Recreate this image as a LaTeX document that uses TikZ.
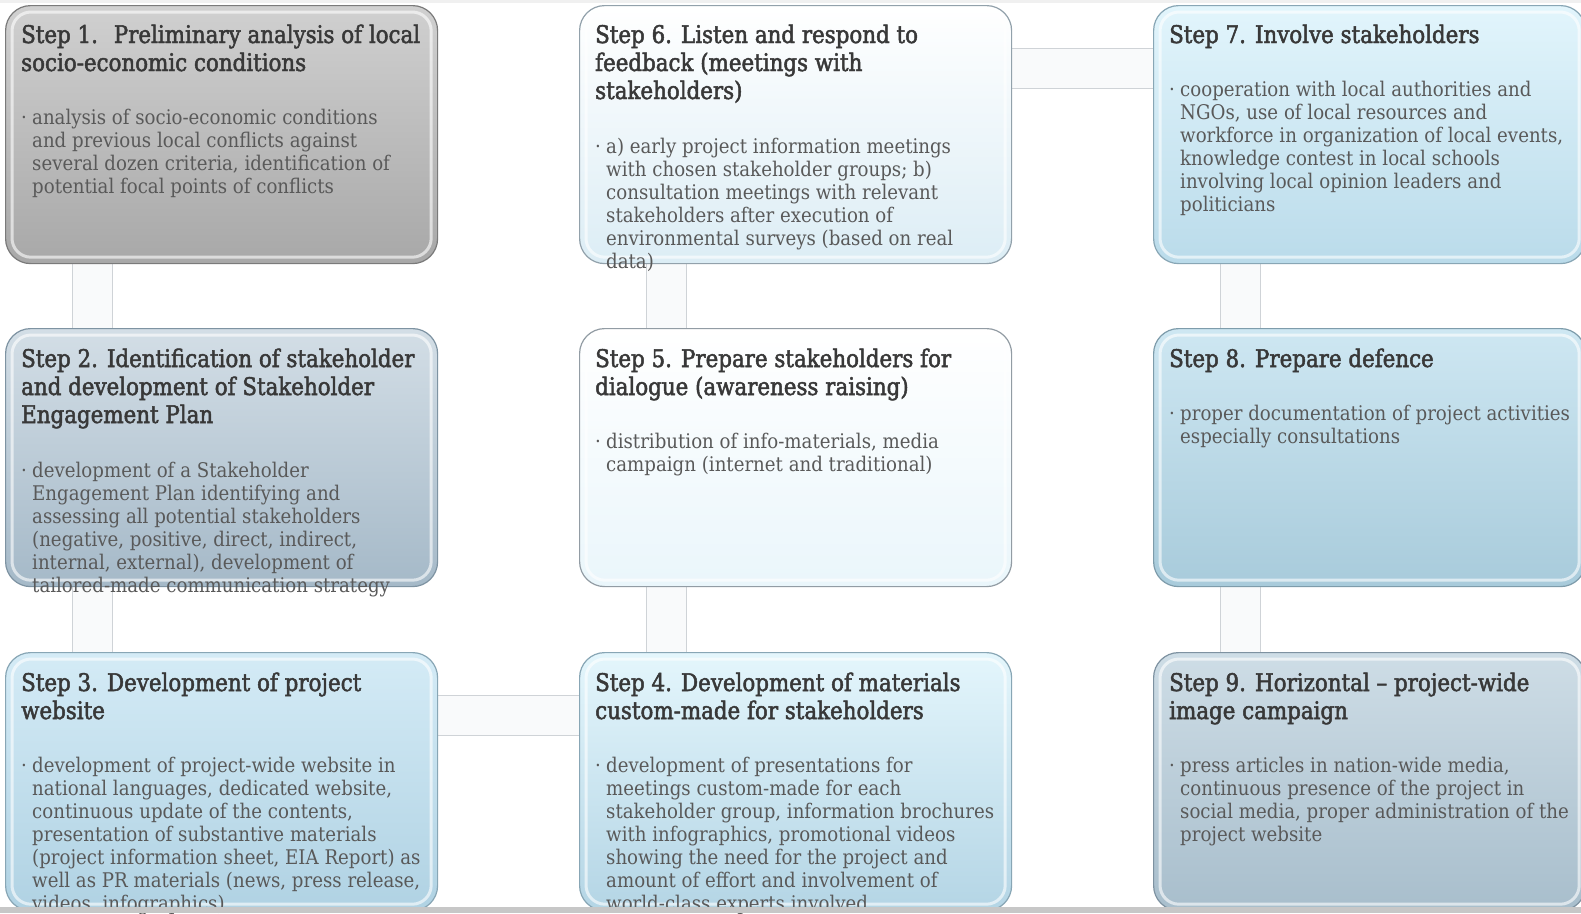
\documentclass[tikz,border=0pt]{standalone}
\usepackage{fontspec}
\usetikzlibrary{calc}
\newfontfamily\bodyfont[FakeStretch=0.9]{DejaVu Serif}
\newfontfamily\titlefont[FakeStretch=0.88,FakeBold=2]{DejaVu Serif}
\definecolor{titlec}{HTML}{383838}
\definecolor{bodyc}{HTML}{595959}
\definecolor{bandfill}{HTML}{F9FAFB}
\definecolor{bandline}{HTML}{CFD3D7}
\definecolor{top1}{HTML}{D0D0D0}\definecolor{bot1}{HTML}{A8A8A8}\definecolor{brd1}{HTML}{7A7A7A}
\definecolor{top2}{HTML}{D3DEE6}\definecolor{bot2}{HTML}{A5B9C8}\definecolor{brd2}{HTML}{7E93A2}
\definecolor{top3}{HTML}{D4EBF6}\definecolor{bot3}{HTML}{B0D2E3}\definecolor{brd3}{HTML}{88A6B5}
\definecolor{top4}{HTML}{E4F6FC}\definecolor{bot4}{HTML}{B4D5E5}\definecolor{brd4}{HTML}{88A6B5}
\definecolor{top5}{HTML}{FFFFFF}\definecolor{bot5}{HTML}{EAF6FB}\definecolor{brd5}{HTML}{929CA4}
\definecolor{top6}{HTML}{FFFFFF}\definecolor{bot6}{HTML}{DCEDF5}\definecolor{brd6}{HTML}{92A1AB}
\definecolor{top7}{HTML}{E2F5FC}\definecolor{bot7}{HTML}{BADBEA}\definecolor{brd7}{HTML}{88A6B5}
\definecolor{top8}{HTML}{CEE7F2}\definecolor{bot8}{HTML}{A8CBDB}\definecolor{brd8}{HTML}{7E9CAB}
\definecolor{top9}{HTML}{CEDDE6}\definecolor{bot9}{HTML}{A8BECC}\definecolor{brd9}{HTML}{7E92A1}
\newcommand\mylines[1]{\vtop{\hsize=520pt\parindent=0pt\raggedright\leavevmode #1\par}}
\pgfdeclarelayer{bg}
\pgfsetlayers{bg,main}
\tikzset{
  stepbox/.style={line width=1.2pt, rounded corners=25pt,
    minimum width=432pt, minimum height=258pt, anchor=north west, inner sep=0pt,
    top color=top#1, bottom color=bot#1, draw=brd#1},
  bevel/.style={draw=white, draw opacity=0.6, line width=3pt, rounded corners=19pt},
  titletext/.style={anchor=base west, inner sep=0pt, text=titlec,
    font=\titlefont\fontsize{24.3}{28}\selectfont},
  bodytext/.style={anchor=base west, inner sep=0pt, text=bodyc,
    font=\bodyfont\fontsize{20.2}{23}\selectfont},
  bandarea/.style={fill=bandfill, draw=none},
  bandedge/.style={draw=bandline, line width=1.4pt},
}
\begin{document}
\begin{tikzpicture}[x=1pt,y=-1pt]
\useasboundingbox (0,0) rectangle (1581,913);

% boxes
\node[stepbox=1] (b1) at (5,5) {};
\node[stepbox=2] (b2) at (5,328) {};
\node[stepbox=3] (b3) at (5,652) {};
\node[stepbox=4] (b4) at (579,652) {};
\node[stepbox=5] (b5) at (579,328) {};
\node[stepbox=6] (b6) at (579,5) {};
\node[stepbox=7] (b7) at (1153,5) {};
\node[stepbox=8] (b8) at (1153,328) {};
\node[stepbox=9] (b9) at (1153,652) {};

\foreach \b in {b1,b2,b3,b4,b5,b6,b7,b8,b9}{
  \draw[bevel] ($(\b.north west)+(7pt,-7pt)$) rectangle ($(\b.south east)+(-7pt,7pt)$);
}

\begin{pgfonlayer}{bg}
\fill[white] (0,0) rectangle (1581,913);
\fill[black!6] (0,0) rectangle (1581,3);
% connector bands (vertical)
\foreach \u/\v in {b1/b2, b2/b3, b6/b5, b5/b4, b7/b8, b8/b9}{
  \fill[bandarea] ($(\u.south west)+(67.5pt,0pt)$) rectangle ($(\v.north west)+(107.5pt,0pt)$);
  \draw[bandedge] ($(\u.south west)+(67.5pt,0pt)$) -- ($(\v.north west)+(67.5pt,0pt)$);
  \draw[bandedge] ($(\u.south west)+(107.5pt,0pt)$) -- ($(\v.north west)+(107.5pt,0pt)$);
}
% connector bands (horizontal)
\foreach \u/\v in {b6/b7, b3/b4}{
  \fill[bandarea] ($(\u.north east)+(0pt,-43.5pt)$) rectangle ($(\v.north west)+(0pt,-83.5pt)$);
  \draw[bandedge] ($(\u.north east)+(0pt,-43.5pt)$) -- ($(\v.north west)+(0pt,-43.5pt)$);
  \draw[bandedge] ($(\u.north east)+(0pt,-83.5pt)$) -- ($(\v.north west)+(0pt,-83.5pt)$);
}
\end{pgfonlayer}

% texts
\node[titletext] (t1) at ($(b1.north west)+(16pt,-38pt)$) {\mylines{Step 1.~ Preliminary analysis of local\\socio-economic conditions}};
\node[bodytext] (p1) at ($(b1.north west)+(16pt,-119pt)$) {·};
\node[bodytext] (d1) at ($(b1.north west)+(27pt,-119pt)$) {\mylines{analysis of socio-economic conditions\\and previous local conflicts against\\several dozen criteria, identification of\\potential focal points of conflicts}};

\node[titletext] (t2) at ($(b2.north west)+(16pt,-39pt)$) {\mylines{Step 2. Identification of stakeholder\\and development of Stakeholder\\Engagement Plan}};
\node[bodytext] (p2) at ($(b2.north west)+(16pt,-149pt)$) {·};
\node[bodytext] (d2) at ($(b2.north west)+(27pt,-149pt)$) {\mylines{development of a Stakeholder\\Engagement Plan identifying and\\assessing all potential stakeholders\\(negative, positive, direct, indirect,\\internal, external), development of\\tailored-made communication strategy}};

\node[titletext] (t3) at ($(b3.north west)+(16pt,-39pt)$) {\mylines{Step 3. Development of project\\website}};
\node[bodytext] (p3) at ($(b3.north west)+(16pt,-120pt)$) {·};
\node[bodytext] (d3) at ($(b3.north west)+(27pt,-120pt)$) {\mylines{development of project-wide website in\\national languages, dedicated website,\\continuous update of the contents,\\presentation of substantive materials\\(project information sheet, EIA Report) as\\well as PR materials (news, press release,\\videos, infographics)}};

\node[titletext] (t4) at ($(b4.north west)+(16pt,-39pt)$) {\mylines{Step 4. Development of materials\\custom-made for stakeholders}};
\node[bodytext] (p4) at ($(b4.north west)+(16pt,-120pt)$) {·};
\node[bodytext] (d4) at ($(b4.north west)+(27pt,-120pt)$) {\mylines{development of presentations for\\meetings custom-made for each\\stakeholder group, information brochures\\with infographics, promotional videos\\showing the need for the project and\\amount of effort and involvement of\\world-class experts involved}};

\node[titletext] (t5) at ($(b5.north west)+(16pt,-39pt)$) {\mylines{Step 5. Prepare stakeholders for\\dialogue (awareness raising)}};
\node[bodytext] (p5) at ($(b5.north west)+(16pt,-120pt)$) {·};
\node[bodytext] (d5) at ($(b5.north west)+(27pt,-120pt)$) {\mylines{distribution of info-materials, media\\campaign (internet and traditional)}};

\node[titletext] (t6) at ($(b6.north west)+(16pt,-38pt)$) {\mylines{Step 6. Listen and respond to\\feedback (meetings with\\stakeholders)}};
\node[bodytext] (p6) at ($(b6.north west)+(16pt,-148pt)$) {·};
\node[bodytext] (d6) at ($(b6.north west)+(27pt,-148pt)$) {\mylines{a) early project information meetings\\with chosen stakeholder groups; b)\\consultation meetings with relevant\\stakeholders after execution of\\environmental surveys (based on real\\data)}};

\node[titletext] (t7) at ($(b7.north west)+(16pt,-38pt)$) {\mylines{Step 7. Involve stakeholders}};
\node[bodytext] (p7) at ($(b7.north west)+(16pt,-91pt)$) {·};
\node[bodytext] (d7) at ($(b7.north west)+(27pt,-91pt)$) {\mylines{cooperation with local authorities and\\NGOs, use of local resources and\\workforce in organization of local events,\\knowledge contest in local schools\\involving local opinion leaders and\\politicians}};

\node[titletext] (t8) at ($(b8.north west)+(16pt,-39pt)$) {\mylines{Step 8. Prepare defence}};
\node[bodytext] (p8) at ($(b8.north west)+(16pt,-92pt)$) {·};
\node[bodytext] (d8) at ($(b8.north west)+(27pt,-92pt)$) {\mylines{proper documentation of project activities\\especially consultations}};

\node[titletext] (t9) at ($(b9.north west)+(16pt,-39pt)$) {\mylines{Step 9. Horizontal – project-wide\\image campaign}};
\node[bodytext] (p9) at ($(b9.north west)+(16pt,-120pt)$) {·};
\node[bodytext] (d9) at ($(b9.north west)+(27pt,-120pt)$) {\mylines{press articles in nation-wide media,\\continuous presence of the project in\\social media, proper administration of the\\project website}};

\fill[black!22] (0,907) rectangle (1581,913);
\end{tikzpicture}
\end{document}
